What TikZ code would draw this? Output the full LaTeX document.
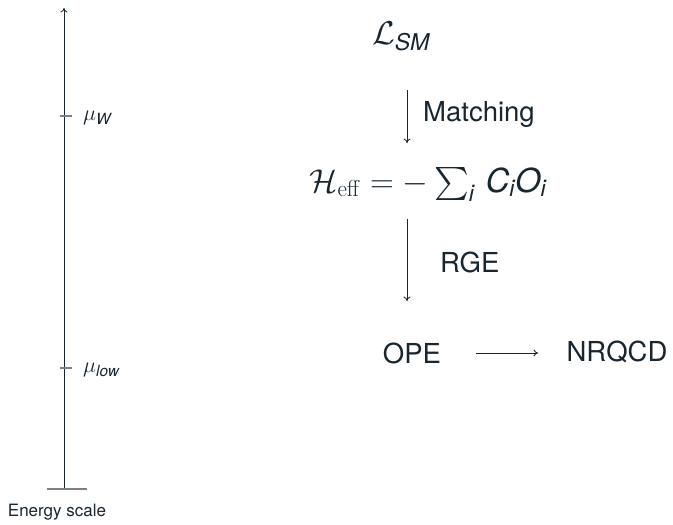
\RequirePackage{fix-cm}
\documentclass[tikz,border=0pt]{standalone}
\usepackage{amsmath}
\usepackage[no-math]{fontspec}
\setmainfont{TeX Gyre Heros}
\usetikzlibrary{arrows.meta}
\definecolor{ink}{RGB}{24,38,48}
\definecolor{tickgray}{RGB}{128,128,128}
\newcommand\sfit[1]{\text{\itshape #1}}
\font\mysumfont=cmex10 at 33pt
\newcommand\mysum{\mathop{\vcenter{\hbox{\mysumfont\char"50}}}\nolimits}
\tikzset{
  lbl/.style={text=ink, inner sep=0pt, font=\fontsize{27.5}{32}\selectfont},
  big/.style={text=ink, inner sep=0pt, font=\fontsize{33}{38}\selectfont},
  small/.style={text=ink, inner sep=0pt, font=\fontsize{17}{20}\selectfont},
  mid/.style={text=ink, inner sep=0pt, font=\fontsize{22}{26}\selectfont},
  arr/.style={draw=ink, line width=0.9pt, -{To[length=4.5pt,width=7pt]}},
  tickmark/.style={draw=tickgray, line width=1.2pt}
}
\begin{document}
\begin{tikzpicture}[x=1pt,y=-1pt]
\useasboundingbox (0,0) rectangle (673,525);
% energy axis
\coordinate (axbot) at (64,489);
\coordinate (axtop) at (64,8);
\draw[arr] (axbot) -- (axtop);
\coordinate (barl) at (47,489);
\coordinate (barr) at (87,489);
\draw[tickmark, line width=1.5pt] (barl) -- (barr);
\coordinate (tw1) at (60,116); \coordinate (tw2) at (72,116);
\draw[tickmark] (tw1) -- (tw2);
\coordinate (tl1) at (60,368); \coordinate (tl2) at (72,368);
\draw[tickmark] (tl1) -- (tl2);
\node[mid, anchor=west] (muw) at (83,118) {$\mu_{\sfit{W}}$};
\node[mid, anchor=west] (mulow) at (83,370) {$\mu_{\sfit{low}}$};
\node[small] (escale) at (57,512) {Energy scale};
% right part
\node[big] (lsm) at (401,36) {$\mathcal{L}_{\sfit{SM}}$};
\node[big, anchor=base] (heff) at (428,192) {$\mathcal{H}_{\mathrm{eff}} = -\mysum_{\sfit{i}}\, \sfit{C}_{\sfit{i}}\sfit{O}_{\sfit{i}}$};
\coordinate (a1s) at (407,90);
\coordinate (a1e) at (407,143);
\draw[arr] (a1s) -- (a1e);
\node[lbl, anchor=west] (match) at (423,114) {Matching};
\coordinate (a2s) at (407,219);
\coordinate (a2e) at (407,301);
\draw[arr] (a2s) -- (a2e);
\node[lbl, anchor=west] (rge) at (440,262) {RGE};
\node[lbl] (ope) at (412,353) {OPE};
\node[lbl] (nrqcd) at (617,352) {NRQCD};
\coordinate (a3s) at (476,353);
\coordinate (a3e) at (538,353);
\draw[arr] (a3s) -- (a3e);
\end{tikzpicture}
\end{document}
